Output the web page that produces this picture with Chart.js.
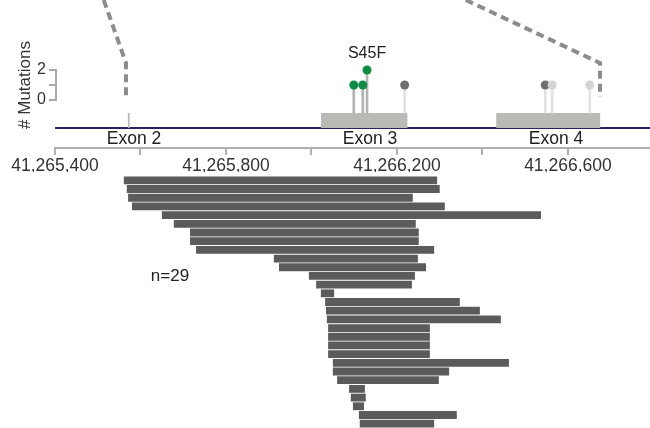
<!DOCTYPE html>
<html>
<head>
<meta charset="utf-8">
<script src="https://cdn.jsdelivr.net/npm/chart.js@4.4.1/dist/chart.umd.min.js"></script>
<style>
  body { margin: 0; background: #fff; }
  #wrap { position: relative; width: 650px; height: 428px; overflow: hidden; }
  #track { position: absolute; left: 0; top: 0; }
  #reads { position: absolute; left: 0; top: 172px; }
</style>
</head>
<body>
<div id="wrap">
  <canvas id="track" width="650" height="172"></canvas>
  <canvas id="reads" width="650" height="256"></canvas>
</div>
<script>
// genomic window shown (bp)
const xMin = 41265400;
const xMax = 41266792;
const tickStep = 200;

// exons
const exonNames = ['Exon 2', 'Exon 3', 'Exon 4'];
const exonStart = [41265570, 41266022, 41266432];
const exonEnd = [41265575, 41266225, 41266676];
const exonLabelPos = [41265585, 41266137, 41266572];

// mutations (lollipops)
const mutPos = [41266099, 41266120, 41266130, 41266218, 41266547, 41266563, 41266651];
const mutCount = [1, 1, 2, 1, 1, 1, 1];
const mutType = ['hotspot', 'hotspot', 'hotspot', 'other', 'other', 'minor', 'minor'];
const mutLabel = ['', '', 'S45F', '', '', '', ''];

// zoom guide lines from the overview (bp, mutation units)
const zoomLeftX = [41265514, 41265566, 41265566];
const zoomRightX = [41266361, 41266675, 41266675];
const zoomY = [6.67, 2.47, 0.2];

// reads (one row each)
const readStart = [41265561, 41265568, 41265571, 41265580, 41265650, 41265678, 41265716, 41265716, 41265730,
  41265912, 41265924, 41265994, 41266011, 41266022, 41266032, 41266034, 41266036, 41266039, 41266039,
  41266039, 41266039, 41266050, 41266050, 41266060, 41266088, 41266092, 41266097, 41266111, 41266113];
const readEnd = [41266294, 41266300, 41266237, 41266312, 41266537, 41266244, 41266251, 41266251, 41266287,
  41266249, 41266268, 41266242, 41266235, 41266053, 41266347, 41266394, 41266443, 41266277, 41266277,
  41266277, 41266277, 41266462, 41266322, 41266298, 41266125, 41266127, 41266123, 41266340, 41266287];

// track layout in mutation units
const yLow = -3.2, yHigh = 6.67;
const trackLine = -1.87;   // navy line
const exonTop = -0.87;
const exonLabelY = -2.6;

const dotColor = { hotspot: '#118a45', other: '#6e6e6e', minor: '#d4d4d4' };
const stemColor = { hotspot: '#b3b3b3', other: '#e2e2e2', minor: '#e2e2e2' };

Chart.defaults.font.family = '"Liberation Sans", Arial, sans-serif';
Chart.defaults.font.size = 16;
Chart.defaults.color = '#333';

const fmt = v => Number(v).toLocaleString('en-US');

// text and mutation bracket on the top track
const trackDecor = {
    id: 'trackDecor',
    afterDatasetsDraw(chart) {
        const { ctx, scales: { x, y } } = chart;
        ctx.save();
        ctx.fillStyle = '#222';
        ctx.textAlign = 'center';
        ctx.textBaseline = 'middle';
        ctx.font = '17.5px "Liberation Sans", Arial, sans-serif';
        exonNames.forEach((name, i) => {
            ctx.fillText(name, x.getPixelForValue(exonLabelPos[i]), y.getPixelForValue(exonLabelY));
        });
        ctx.font = '16px "Liberation Sans", Arial, sans-serif';
        mutLabel.forEach((lab, i) => {
            if (!lab) return;
            ctx.fillText(lab, x.getPixelForValue(mutPos[i]), y.getPixelForValue(mutCount[i]) - 16);
        });
        // bracket of the mutation axis
        ctx.strokeStyle = '#aaa';
        ctx.lineWidth = 2;
        ctx.beginPath();
        ctx.moveTo(y.right + 1, y.getPixelForValue(0) + 1);
        ctx.lineTo(y.right + 1, y.getPixelForValue(2) - 1);
        ctx.stroke();
        // axis title
        ctx.translate(25, y.getPixelForValue(1));
        ctx.rotate(-Math.PI / 2);
        ctx.fillStyle = '#333';
        ctx.font = '17px "Liberation Sans", Arial, sans-serif';
        ctx.fillText('# Mutations', 0, 0);
        ctx.restore();
    }
};

const datasets = [];
datasets.push({
    type: 'line',
    data: mutPos.map((p, i) => ({ x: p, y: mutCount[i] })),
    showLine: false,
    pointRadius: 4.5,
    pointBorderWidth: 0,
    pointBackgroundColor: mutType.map(t => dotColor[t]),
    order: 0
});
datasets.push({
    type: 'bar',
    data: mutPos.map((p, i) => ({ x: p, y: [exonTop, mutCount[i]] })),
    backgroundColor: mutType.map(t => stemColor[t]),
    barThickness: 2,
    order: 1
});
exonNames.forEach((name, i) => {
    datasets.push({
        type: 'line',
        data: [{ x: exonStart[i], y: exonTop }, { x: exonEnd[i], y: exonTop }],
        borderWidth: 0,
        pointRadius: 0,
        fill: { value: trackLine },
        backgroundColor: '#b9bab5',
        order: 2
    });
});
datasets.push({
    type: 'line',
    data: [{ x: xMin - 5, y: trackLine }, { x: xMax, y: trackLine }],
    borderColor: '#25245e',
    borderWidth: 2,
    pointRadius: 0,
    order: 3
});
[zoomLeftX, zoomRightX].forEach(xs => {
    datasets.push({
        type: 'line',
        data: xs.map((v, i) => ({ x: v, y: zoomY[i] })),
        borderColor: '#8c8c8c',
        borderWidth: 4,
        borderDash: [8, 5],
        pointRadius: 0,
        order: 4
    });
});

new Chart(document.getElementById('track'), {
    type: 'scatter',
    data: { datasets },
    options: {
        responsive: false,
        animation: false,
        devicePixelRatio: 1,
        layout: { padding: 0, autoPadding: false },
        plugins: { legend: { display: false }, tooltip: { enabled: false } },
        scales: {
            x: {
                type: 'linear',
                min: xMin,
                max: xMax,
                offset: false,
                afterBuildTicks: s => {
                    const t = [];
                    for (let v = xMin; v <= xMax; v += tickStep) t.push({ value: v });
                    s.ticks = t;
                },
                afterFit: s => { s.height = 24; s.paddingLeft = 0; s.paddingRight = 0; },
                ticks: {
                    autoSkip: false,
                    maxRotation: 0,
                    padding: 1,
                    color: '#333',
                    font: { size: 17.5 },
                    callback: v => (v - xMin) % (2 * tickStep) === 0 ? fmt(v) : ''
                },
                grid: { offset: false, drawOnChartArea: false, tickLength: 7, color: '#b0b0b0', lineWidth: 2 },
                border: { color: '#b0b0b0', width: 2 }
            },
            y: {
                type: 'linear',
                min: yLow,
                max: yHigh,
                afterFit: s => { s.width = 55; s.paddingTop = 0; s.paddingBottom = 0; },
                afterBuildTicks: s => { s.ticks = [0, 1, 2].map(v => ({ value: v })); },
                ticks: { padding: 3, color: '#333', callback: v => v === 1 ? '' : String(v) },
                grid: { drawOnChartArea: false, tickLength: 6, color: '#aaa', lineWidth: 2 },
                border: { display: false }
            }
        }
    },
    plugins: [trackDecor]
});

// read count label
const countLabel = {
    id: 'countLabel',
    afterDatasetsDraw(chart) {
        const { ctx, scales: { x, y } } = chart;
        ctx.save();
        ctx.fillStyle = '#222';
        ctx.font = '17px "Liberation Sans", Arial, sans-serif';
        ctx.textAlign = 'center';
        ctx.textBaseline = 'middle';
        ctx.fillText('n=' + readStart.length, x.getPixelForValue(41265669), y.getPixelForValue(11));
        ctx.restore();
    }
};

new Chart(document.getElementById('reads'), {
    type: 'bar',
    data: {
        labels: readStart.map((_, i) => i + 1),
        datasets: [{
            data: readStart.map((s, i) => [s, readEnd[i]]),
            backgroundColor: '#5b5b5b',
            barPercentage: 0.9,
            categoryPercentage: 1
        }]
    },
    options: {
        indexAxis: 'y',
        responsive: false,
        animation: false,
        devicePixelRatio: 1,
        layout: { padding: { left: 55, top: 4, right: 0, bottom: 0 }, autoPadding: false },
        plugins: { legend: { display: false }, tooltip: { enabled: false } },
        scales: {
            x: { type: 'linear', min: xMin, max: xMax, display: false },
            y: { display: false }
        }
    },
    plugins: [countLabel]
});
</script>
</body>
</html>
